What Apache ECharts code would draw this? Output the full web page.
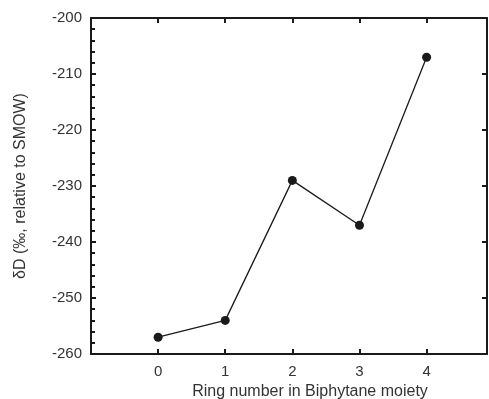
<!DOCTYPE html>
<html>
<head>
<meta charset="utf-8">
<script src="https://cdn.jsdelivr.net/npm/echarts@6/dist/echarts.min.js"></script>
<style>
  html, body { margin: 0; padding: 0; background: #fff; }
  #chart { width: 489px; height: 399px; }
</style>
</head>
<body>
<div id="chart"></div>
<script>
// ring number vs dD
const rings = [0, 1, 2, 3, 4];
const deltaD = [-257, -254, -229, -237, -207];
const xTicks = ['0', '1', '2', '3', '4'];

const font = 'Liberation Sans, Arial, sans-serif';
const black = '#1a1a1a';

const points = rings.map((r, i) => [r, deltaD[i]]);

// shared bits for the frame axes
const lineStyle = { color: black, width: 2 };

const option = {
    animation: false,
    grid: { left: 91, right: 2, top: 18, bottom: 45, outerBoundsMode: 'none', containLabel: false },
    xAxis: [
        {
            type: 'value',
            min: -1,
            max: 4.9,
            interval: 1,
            position: 'bottom',
            name: 'Ring number in Biphytane moiety',
            nameLocation: 'middle',
            nameGap: 28,
            nameTextStyle: { fontFamily: font, fontSize: 16, color: '#333', padding: [0, 0, 0, 42] },
            axisLine: { show: true, onZero: false, lineStyle: lineStyle },
            axisTick: { show: true, inside: true, length: 5, lineStyle: { color: black, width: 2 } },
            axisLabel: {
                fontFamily: font, fontSize: 15, color: '#333', margin: 10,
                showMinLabel: false, showMaxLabel: false,
                formatter: function (v) {
                    let i = rings.indexOf(v);
                    return i >= 0 ? xTicks[i] : '';
                }
            },
            splitLine: { show: false }
        },
        {
            type: 'value',
            min: -1,
            max: 4.9,
            interval: 1,
            position: 'top',
            axisLine: { show: true, onZero: false, lineStyle: lineStyle },
            axisTick: { show: true, inside: true, length: 5, lineStyle: { color: black, width: 2 } },
            axisLabel: { show: false },
            splitLine: { show: false }
        }
    ],
    yAxis: [
        {
            type: 'value',
            min: -260,
            max: -200,
            interval: 10,
            position: 'left',
            name: 'δD (‰, relative to SMOW)',
            nameLocation: 'middle',
            nameGap: 62,
            nameTextStyle: { fontFamily: font, fontSize: 16, color: '#333' },
            axisLine: { show: true, onZero: false, lineStyle: lineStyle },
            axisTick: { show: true, inside: true, length: 5, lineStyle: { color: black, width: 2 } },
            minorTick: { show: true, splitNumber: 5, length: 4, lineStyle: { color: black, width: 2 } },
            axisLabel: { fontFamily: font, fontSize: 15, color: '#333', margin: 9 },
            splitLine: { show: false }
        },
        {
            type: 'value',
            min: -260,
            max: -200,
            interval: 10,
            position: 'right',
            axisLine: { show: true, onZero: false, lineStyle: lineStyle },
            axisTick: { show: true, inside: true, length: 5, lineStyle: { color: black, width: 2 } },
            axisLabel: { show: false },
            splitLine: { show: false }
        }
    ],
    series: [
        {
            type: 'line',
            xAxisIndex: 0,
            yAxisIndex: 0,
            data: points,
            symbol: 'circle',
            symbolSize: 9,
            lineStyle: { color: black, width: 1.3 },
            itemStyle: { color: black }
        }
    ]
};

const chart = echarts.init(document.getElementById('chart'));
chart.setOption(option);
</script>
</body>
</html>
